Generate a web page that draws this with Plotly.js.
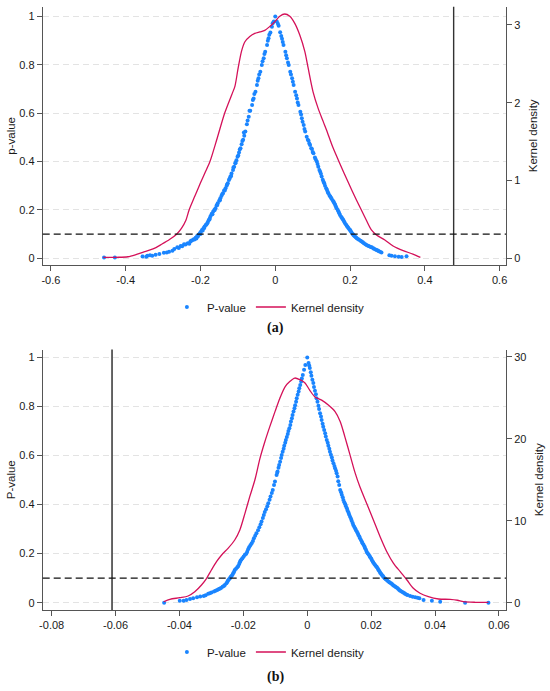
<!DOCTYPE html>
<html>
<head>
<meta charset="utf-8">
<script src="https://cdn.plot.ly/plotly-3.0.1.min.js"></script>
<style>
html,body{margin:0;padding:0;background:#fff;}
#chart{width:550px;height:691px;}
</style>
</head>
<body>
<div id="chart"></div>
<script>
// ---------- Panel (a) data ----------
const ticksAx = [-0.6, -0.4, -0.2, 0, 0.2, 0.4, 0.6];
const ticksAxText = ['-0.6', '-0.4', '-0.2', '0', '0.2', '0.4', '0.6'];
const ticksP = [0, 0.2, 0.4, 0.6, 0.8, 1];
const ticksPText = ['0', '0.2', '0.4', '0.6', '0.8', '1'];
const ticksKA = [0, 1, 2, 3];
const ticksKAText = ['0', '1', '2', '3'];

// permutation estimates and p-values, left branch (panel a)
const pValueA_left = [
[-0.458,0.003],[-0.429,0.003],[-0.355,0.007],[-0.342,0.010],[-0.329,0.010],[-0.320,0.014],[-0.298,0.023],[-0.284,0.027],
[-0.275,0.031],[-0.262,0.045],[-0.253,0.051],[-0.244,0.058],[-0.234,0.062],[-0.227,0.069],[-0.222,0.074],[-0.218,0.079],
[-0.213,0.085],[-0.209,0.092],[-0.205,0.097],[-0.202,0.103],[-0.199,0.110],[-0.196,0.117],[-0.192,0.124],[-0.189,0.131],
[-0.186,0.138],[-0.182,0.145],[-0.180,0.151],[-0.178,0.158],[-0.175,0.166],[-0.173,0.175],[-0.170,0.184],[-0.166,0.193],
[-0.163,0.200],[-0.160,0.207],[-0.157,0.218],[-0.154,0.228],[-0.150,0.238],[-0.147,0.248],[-0.144,0.258],[-0.140,0.269],
[-0.137,0.280],[-0.133,0.290],[-0.130,0.300],[-0.127,0.310],[-0.124,0.324],[-0.120,0.338],[-0.117,0.351],[-0.113,0.365],
[-0.110,0.379],[-0.107,0.393],[-0.104,0.406],[-0.101,0.420],[-0.097,0.438],[-0.093,0.455],[-0.090,0.472],[-0.086,0.490],
[-0.083,0.507],[-0.080,0.524],[-0.076,0.555],[-0.071,0.586],[-0.067,0.610],[-0.062,0.634],[-0.058,0.661],[-0.053,0.689],
[-0.049,0.717],[-0.045,0.745],[-0.040,0.772],[-0.036,0.800],[-0.031,0.828],[-0.027,0.855],[-0.022,0.882],[-0.018,0.910],
[-0.013,0.934],[-0.009,0.958],[-0.004,0.980],[0.000,1.000],
[-0.084,0.52],[-0.074,0.57],[-0.069,0.61],[-0.060,0.655],[-0.056,0.68],[-0.047,0.735],[-0.043,0.76],[-0.034,0.815],
[-0.029,0.845],[-0.020,0.90],[-0.016,0.925],[-0.007,0.972],[-0.088,0.485],[-0.095,0.45],[-0.099,0.425],[-0.106,0.395],
[-0.112,0.375],[-0.118,0.34],[-0.122,0.33],[-0.129,0.305],[-0.135,0.28],[-0.142,0.265],[-0.148,0.24],[-0.155,0.22],
[-0.162,0.2],[-0.168,0.182],[-0.176,0.16],[-0.184,0.14],[-0.19,0.125],[-0.194,0.115],[-0.2,0.1],[-0.207,0.09],
[-0.211,0.082],[-0.216,0.078],[-0.225,0.072],[-0.23,0.06],[-0.24,0.057],[-0.249,0.05],[-0.258,0.042],[-0.27,0.038],
[-0.29,0.024],[-0.31,0.018],[-0.335,0.012],[-0.345,0.006]
];
// right branch (panel a)
const pValueA_right = [
[0.004,0.980],[0.009,0.962],[0.013,0.935],[0.018,0.908],[0.022,0.882],[0.027,0.855],[0.031,0.828],[0.036,0.800],
[0.040,0.772],[0.045,0.745],[0.049,0.717],[0.053,0.689],[0.058,0.661],[0.062,0.634],[0.067,0.606],[0.071,0.579],
[0.076,0.551],[0.080,0.524],[0.084,0.503],[0.089,0.486],[0.093,0.469],[0.098,0.452],[0.102,0.434],[0.106,0.417],
[0.111,0.400],[0.115,0.379],[0.120,0.358],[0.124,0.338],[0.129,0.317],[0.133,0.300],[0.138,0.283],[0.142,0.269],
[0.147,0.255],[0.151,0.245],[0.156,0.234],[0.160,0.221],[0.164,0.207],[0.169,0.193],[0.173,0.179],[0.178,0.168],
[0.182,0.158],[0.186,0.146],[0.191,0.134],[0.195,0.126],[0.200,0.117],[0.204,0.106],[0.209,0.096],[0.213,0.090],
[0.218,0.083],[0.224,0.076],[0.231,0.069],[0.237,0.062],[0.244,0.055],[0.251,0.050],[0.258,0.045],[0.264,0.039],
[0.271,0.034],[0.276,0.030],[0.280,0.027],[0.311,0.010],[0.320,0.008],[0.338,0.005],[0.351,0.008],
[0.007,0.97],[0.016,0.92],[0.020,0.895],[0.029,0.84],[0.034,0.81],[0.042,0.76],[0.047,0.73],[0.056,0.675],
[0.060,0.645],[0.069,0.595],[0.073,0.565],[0.078,0.535],[0.087,0.49],[0.091,0.475],[0.096,0.455],[0.1,0.44],
[0.108,0.41],[0.113,0.39],[0.118,0.365],[0.122,0.35],[0.127,0.325],[0.131,0.31],[0.136,0.29],[0.14,0.275],
[0.145,0.26],[0.149,0.25],[0.154,0.238],[0.158,0.228],[0.162,0.214],[0.167,0.2],[0.171,0.186],[0.176,0.172],
[0.18,0.162],[0.184,0.152],[0.189,0.14],[0.193,0.13],[0.198,0.12],[0.202,0.112],[0.207,0.1],[0.211,0.093],
[0.216,0.086],[0.221,0.08],[0.228,0.072],[0.234,0.066],[0.241,0.058],[0.248,0.052],[0.255,0.047],[0.262,0.041],
[0.268,0.036],[0.274,0.032],[0.284,0.024],[0.305,0.012],[0.33,0.006]
];
// kernel density (panel a)
const kdeA_x = [-0.460,-0.425,-0.394,-0.371,-0.349,-0.327,-0.304,-0.282,-0.264,-0.251,-0.239,-0.2305,-0.215,-0.200,-0.188,-0.175,-0.155,-0.135,-0.115,-0.108,-0.0995,-0.0904,-0.0816,-0.0682,-0.0548,-0.0414,-0.0281,-0.0147,-0.0013,0.012,0.0254,0.0388,0.0521,0.0655,0.0789,0.0877,0.101,0.1144,0.128,0.137,0.1545,0.1725,0.1947,0.217,0.239,0.257,0.2706,0.293,0.315,0.342,0.368,0.388];
const kdeA_y = [0.013,0.013,0.02,0.05,0.085,0.12,0.18,0.244,0.31,0.385,0.49,0.62,0.80,0.97,1.10,1.24,1.55,1.87,2.12,2.21,2.44,2.66,2.78,2.85,2.89,2.91,2.93,2.98,3.04,3.11,3.14,3.11,3.02,2.87,2.66,2.45,2.14,1.93,1.76,1.65,1.42,1.22,0.98,0.75,0.535,0.364,0.30,0.235,0.158,0.098,0.055,0.013];
const estA = 0.477;     // actual estimate (vertical line)
const pCut = 0.1;       // significance line

// ---------- Panel (b) data ----------
const ticksBx = [-0.08, -0.06, -0.04, -0.02, 0, 0.02, 0.04, 0.06];
const ticksBxText = ['-0.08', '-0.06', '-0.04', '-0.02', '0', '0.02', '0.04', '0.06'];
const ticksKB = [0, 10, 20, 30];
const ticksKBText = ['0', '10', '20', '30'];

const pValueB_left = [
[-0.0448,0.000],[-0.0399,0.008],[-0.0387,0.008],[-0.0378,0.011],[-0.0357,0.018],[-0.0345,0.022],[-0.0324,0.027],[-0.0310,0.036],
[-0.0300,0.041],[-0.0292,0.046],[-0.0282,0.052],[-0.0274,0.057],[-0.0265,0.065],[-0.0258,0.072],[-0.0253,0.079],[-0.0248,0.090],
[-0.0242,0.100],[-0.0237,0.109],[-0.0232,0.120],[-0.0227,0.133],[-0.0219,0.144],[-0.0213,0.158],[-0.0209,0.171],[-0.0203,0.181],
[-0.0195,0.195],[-0.0188,0.208],[-0.0182,0.226],[-0.0174,0.242],[-0.0167,0.263],[-0.0159,0.283],[-0.0150,0.308],[-0.0143,0.331],
[-0.0136,0.358],[-0.0129,0.381],[-0.0122,0.406],[-0.0115,0.433],[-0.0108,0.460],[-0.0101,0.494],[-0.0096,0.521],[-0.0093,0.535],
[-0.0088,0.562],[-0.0082,0.590],[-0.0077,0.616],[-0.0072,0.640],[-0.0067,0.664],[-0.0061,0.688],[-0.0056,0.712],[-0.0051,0.739],
[-0.0046,0.766],[-0.0040,0.793],[-0.0035,0.820],[-0.0030,0.848],[-0.0025,0.875],[-0.0019,0.902],[-0.0014,0.929],[-0.0006,0.970],
[0.0000,1.000],
[-0.0094,0.53],[-0.0090,0.55],[-0.0085,0.575],[-0.0080,0.603],[-0.0074,0.628],[-0.0069,0.652],[-0.0064,0.676],[-0.0059,0.7],
[-0.0053,0.725],[-0.0048,0.752],[-0.0043,0.78],[-0.0038,0.806],[-0.0033,0.834],[-0.0027,0.862],[-0.0022,0.888],[-0.0017,0.915],
[-0.0010,0.95],[-0.0104,0.48],[-0.0111,0.447],[-0.0118,0.42],[-0.0125,0.393],[-0.0133,0.37],[-0.0139,0.345],[-0.0146,0.32],
[-0.0154,0.295],[-0.0163,0.273],[-0.0170,0.252],[-0.0178,0.234],[-0.0185,0.218],[-0.0191,0.2],[-0.0199,0.188],[-0.0206,0.176],
[-0.0211,0.165],[-0.0216,0.15],[-0.0223,0.138],[-0.0229,0.126],[-0.0234,0.114],[-0.0240,0.105],[-0.0245,0.095],[-0.0250,0.085],
[-0.0261,0.068],[-0.0270,0.06],[-0.0278,0.055],[-0.0287,0.049],[-0.0305,0.038],[-0.0318,0.03],[-0.0335,0.025],[-0.0367,0.015]
];
const pValueB_right = [
[0.0004,0.978],[0.0008,0.957],[0.0013,0.926],[0.0019,0.896],[0.0024,0.865],[0.0029,0.834],[0.0035,0.803],[0.0040,0.773],
[0.0045,0.745],[0.0050,0.718],[0.0056,0.691],[0.0061,0.664],[0.0066,0.640],[0.0071,0.616],[0.0077,0.592],[0.0082,0.569],
[0.0087,0.548],[0.0092,0.528],[0.0097,0.495],[0.0103,0.460],[0.0108,0.440],[0.0113,0.419],[0.0119,0.402],[0.0124,0.385],
[0.0129,0.368],[0.0134,0.351],[0.0139,0.334],[0.0144,0.317],[0.0150,0.303],[0.0155,0.290],[0.0160,0.276],[0.0165,0.263],
[0.0171,0.249],[0.0176,0.236],[0.0181,0.222],[0.0186,0.208],[0.0192,0.196],[0.0197,0.185],[0.0202,0.174],[0.0207,0.163],
[0.0213,0.153],[0.0218,0.144],[0.0223,0.133],[0.0228,0.122],[0.0233,0.114],[0.0238,0.106],[0.0245,0.097],[0.0251,0.089],
[0.0258,0.082],[0.0265,0.076],[0.0271,0.069],[0.0278,0.063],[0.0285,0.056],[0.0291,0.049],[0.0299,0.042],[0.0306,0.036],
[0.0314,0.031],[0.0322,0.027],[0.0338,0.022],[0.0351,0.018],[0.0364,0.011],[0.0416,0.004],[0.0494,0.000],[0.0567,0.000],
[0.0006,0.968],[0.0011,0.94],[0.0016,0.91],[0.0021,0.88],[0.0027,0.85],[0.0032,0.82],[0.0037,0.79],[0.0043,0.76],
[0.0048,0.73],[0.0053,0.705],[0.0058,0.678],[0.0064,0.652],[0.0069,0.628],[0.0074,0.604],[0.0079,0.58],[0.0085,0.558],
[0.0090,0.538],[0.0095,0.515],[0.0100,0.48],[0.0106,0.45],[0.0111,0.43],[0.0116,0.41],[0.0121,0.393],[0.0126,0.376],
[0.0131,0.36],[0.0137,0.342],[0.0142,0.325],[0.0147,0.31],[0.0152,0.296],[0.0158,0.283],[0.0163,0.27],[0.0168,0.256],
[0.0173,0.242],[0.0179,0.229],[0.0184,0.215],[0.0189,0.202],[0.0195,0.19],[0.0200,0.18],[0.0205,0.168],[0.0210,0.158],
[0.0216,0.148],[0.0221,0.138],[0.0226,0.128],[0.0231,0.118],[0.0236,0.11],[0.0242,0.1],[0.0248,0.093],[0.0255,0.085],
[0.0262,0.079],[0.0268,0.072],[0.0275,0.066],[0.0282,0.06],[0.0288,0.052],[0.0295,0.045],[0.0303,0.039],[0.0310,0.033],
[0.0330,0.024],[0.0345,0.02],[0.0390,0.008]
];
const kdeB_x = [-0.0449,-0.0430,-0.0399,-0.0373,-0.0352,-0.0331,-0.0315,-0.0300,-0.0284,-0.0268,-0.0248,-0.0227,-0.0211,-0.0195,-0.0180,-0.0164,-0.0148,-0.0133,-0.0117,-0.0101,-0.0086,-0.0070,-0.0054,-0.0039,-0.0023,-0.0007,0.0008,0.0024,0.0045,0.0066,0.0087,0.0103,0.0118,0.0134,0.0150,0.0165,0.0186,0.0207,0.0228,0.0249,0.0270,0.0291,0.0312,0.0332,0.0353,0.0379,0.0411,0.0447,0.0470,0.0489,0.0526,0.0567];
const kdeB_y = [0.12,0.41,0.61,0.82,1.34,2.16,2.98,3.99,5.0,5.82,6.63,7.65,8.87,10.9,12.93,14.96,17.6,19.6,21.5,23.3,24.9,26.3,27.0,27.4,27.2,26.8,25.9,25.1,24.7,24.1,23.3,22.1,20.2,18.0,15.8,14.1,12.1,10.1,8.05,6.22,4.8,3.78,2.77,1.76,1.15,0.73,0.45,0.41,0.3,0.12,0.05,0.05];
const estB = -0.0611;

// ---------- styling ----------
const BLUE = '#1A85FF';
const RED = '#D41159';
const AX = '#555555';
const FONT = 'Liberation Sans, Arial, sans-serif';
const TXT = '#1a1a1a';

const allA = pValueA_left.concat(pValueA_right);
const allB = pValueB_left.concat(pValueB_right);

const traces = [
  {type:'scatter', mode:'markers', name:'P-value', x: allA.map(d=>d[0]), y: allA.map(d=>d[1]),
   xaxis:'x', yaxis:'y', marker:{color:BLUE, size:4, line:{width:0}}, legend:'legend', cliponaxis:false},
  {type:'scatter', mode:'lines', name:'Kernel density', x: kdeA_x, y: kdeA_y,
   xaxis:'x', yaxis:'y2', line:{color:RED, width:1.3, shape:'spline', smoothing:0.8}, legend:'legend'},
  {type:'scatter', mode:'markers', name:'P-value', x: allB.map(d=>d[0]), y: allB.map(d=>d[1]),
   xaxis:'x2', yaxis:'y3', marker:{color:BLUE, size:4, line:{width:0}}, legend:'legend2', cliponaxis:false},
  {type:'scatter', mode:'lines', name:'Kernel density', x: kdeB_x, y: kdeB_y,
   xaxis:'x2', yaxis:'y4', line:{color:RED, width:1.3, shape:'spline', smoothing:0.8}, legend:'legend2'}
];

const XDOM = [42.7/550, 506/550];
const domA = [1-265/691, 1-6.7/691];
const domB = [1-610/691, 1-349.5/691];

function xAxis(anchor, range, tv, tt){
  return {domain:XDOM, anchor:anchor, range:range, tickvals:tv, ticktext:tt,
    showline:true, linecolor:AX, linewidth:1, ticks:'outside', ticklen:5, tickcolor:AX, tickwidth:1,
    showgrid:false, zeroline:false, tickfont:{family:FONT, size:11, color:TXT}, fixedrange:true};
}
function yLeft(anchor, dom, range, tv, tt, title){
  return {domain:dom, anchor:anchor, range:range, tickvals:tv, ticktext:tt,
    showline:true, linecolor:AX, linewidth:1, ticks:'outside', ticklen:5, tickcolor:AX, tickwidth:1,
    showgrid:true, gridcolor:'#e3e3e3', gridwidth:1, griddash:'6px,4px', zeroline:false,
    tickfont:{family:FONT, size:11, color:TXT},
    title:{text:title, font:{family:FONT, size:11.5, color:TXT}, standoff:1}};
}
function yRight(overlay, anchor, range, tv, tt, standoff){
  return {overlaying:overlay, side:'right', anchor:anchor, range:range, tickvals:tv, ticktext:tt,
    showline:true, linecolor:AX, linewidth:1, ticks:'outside', ticklen:5, tickcolor:AX, tickwidth:1,
    showgrid:false, zeroline:false, tickfont:{family:FONT, size:11, color:TXT},
    title:{text:'Kernel density', font:{family:FONT, size:11.5, color:TXT}, standoff:standoff}};
}

const layout = {
  width:550, height:691,
  margin:{l:0, r:0, t:0, b:0, autoexpand:false},
  paper_bgcolor:'#ffffff', plot_bgcolor:'#ffffff',
  font:{family:FONT, color:TXT},
  xaxis: xAxis('y', [-0.622, 0.617], ticksAx, ticksAxText),
  yaxis: yLeft('x', domA, [-0.028, 1.041], ticksP, ticksPText, 'p-value'),
  yaxis2: yRight('y', 'x', [-0.086, 3.234], ticksKA, ticksKAText, 9),
  xaxis2: xAxis('y3', [-0.0828, 0.0622], ticksBx, ticksBxText),
  yaxis3: yLeft('x2', domB, [-0.030, 1.033], ticksP, ticksPText, 'P-value'),
  yaxis4: yRight('y3', 'x2', [-0.89, 30.88], ticksKB, ticksKBText, 9),
  legend:{orientation:'h', x:0.488, xanchor:'center', y:1-307/691, yanchor:'middle',
    font:{family:FONT, size:11.5, color:TXT}, bgcolor:'rgba(0,0,0,0)', itemwidth:30},
  legend2:{orientation:'h', x:0.488, xanchor:'center', y:1-652/691, yanchor:'middle',
    font:{family:FONT, size:11.5, color:TXT}, bgcolor:'rgba(0,0,0,0)', itemwidth:30},
  shapes:[
    {type:'line', xref:'x', yref:'y domain', x0:estA, x1:estA, y0:0, y1:1, line:{color:'#333333', width:1.4}},
    {type:'line', xref:'x domain', yref:'y', x0:0, x1:1, y0:pCut, y1:pCut, line:{color:'#111111', width:1.2, dash:'7px,4px'}},
    {type:'line', xref:'x2', yref:'y3 domain', x0:estB, x1:estB, y0:0, y1:1, line:{color:'#555555', width:1.8}},
    {type:'line', xref:'x2 domain', yref:'y3', x0:0, x1:1, y0:pCut, y1:pCut, line:{color:'#111111', width:1.2, dash:'7px,4px'}}
  ],
  annotations:[
    {text:'<b>(a)</b>', xref:'paper', yref:'paper', x:0.5, y:1-328/691, xanchor:'center', yanchor:'middle', showarrow:false,
     font:{family:'Liberation Serif, Times New Roman, serif', size:14, color:'#111'}},
    {text:'<b>(b)</b>', xref:'paper', yref:'paper', x:0.5, y:1-677/691, xanchor:'center', yanchor:'middle', showarrow:false,
     font:{family:'Liberation Serif, Times New Roman, serif', size:14, color:'#111'}}
  ]
};

Plotly.newPlot('chart', traces, layout, {displayModeBar:false, staticPlot:true});
</script>
</body>
</html>
